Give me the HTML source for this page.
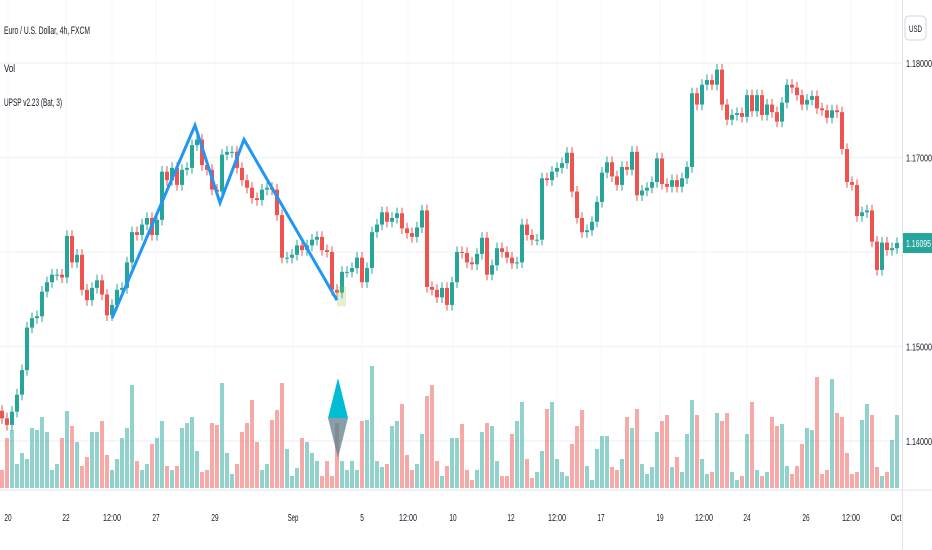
<!DOCTYPE html>
<html><head><meta charset="utf-8"><style>
html,body{margin:0;padding:0;background:#fff;}
svg{display:block;font-family:"Liberation Sans",sans-serif;}
</style></head><body>
<svg id="chart" width="932" height="550" viewBox="0 0 932 550" xmlns="http://www.w3.org/2000/svg">
<g id="grid"></g>
<g id="vol"></g>
<g id="candles"></g>
<g id="pattern"></g>
<g id="axes"></g>
<text x="4" y="34" font-size="11" fill="#131722" textLength="86" lengthAdjust="spacingAndGlyphs">Euro / U.S. Dollar, 4h, FXCM</text>
<text x="4" y="72" font-size="11" fill="#131722" textLength="11" lengthAdjust="spacingAndGlyphs">Vol</text>
<text x="4" y="106" font-size="11" fill="#131722" textLength="58" lengthAdjust="spacingAndGlyphs">UPSP v2.23 (Bat, 3)</text>
<rect x="905" y="16" width="21" height="24" rx="4" fill="#fff" stroke="#d1d4dc"/>
<text x="915.5" y="32" font-size="9" fill="#131722" text-anchor="middle" textLength="13" lengthAdjust="spacingAndGlyphs">USD</text>
</svg>
<script>
const closes=[1.1424,1.1417,1.1431,1.1449,1.1475,1.1520,1.1530,1.1532,1.1558,1.1568,1.1576,1.1576,1.1573,1.1617,1.1589,1.1597,1.1560,1.1549,1.1562,1.1570,1.1555,1.1533,1.1544,1.1560,1.1562,1.1589,1.1621,1.1618,1.1629,1.1636,1.1618,1.1634,1.1685,1.1676,1.1689,1.1671,1.1687,1.1689,1.1713,1.1719,1.1692,1.1687,1.1666,1.1664,1.1703,1.1706,1.1706,1.1689,1.1676,1.1668,1.1657,1.1655,1.1666,1.1668,1.1666,1.1639,1.1594,1.1594,1.1597,1.1607,1.1602,1.1607,1.1613,1.1616,1.1602,1.1600,1.1560,1.1557,1.1579,1.1579,1.1583,1.1594,1.1568,1.1583,1.1621,1.1629,1.1642,1.1632,1.1636,1.1641,1.1625,1.1620,1.1616,1.1626,1.1644,1.1563,1.1560,1.1552,1.1562,1.1544,1.1568,1.1600,1.1599,1.1589,1.1587,1.1598,1.1615,1.1576,1.1586,1.1604,1.1600,1.1594,1.1588,1.1589,1.1629,1.1618,1.1613,1.1613,1.1678,1.1676,1.1685,1.1689,1.1694,1.1705,1.1664,1.1636,1.1621,1.1623,1.1632,1.1653,1.1684,1.1695,1.1680,1.1671,1.1690,1.1687,1.1706,1.1660,1.1665,1.1668,1.1674,1.1699,1.1672,1.1669,1.1676,1.1669,1.1678,1.1690,1.1768,1.1756,1.1777,1.1782,1.1777,1.1793,1.1756,1.1740,1.1745,1.1747,1.1743,1.1766,1.1749,1.1766,1.1745,1.1756,1.1748,1.1738,1.1758,1.1777,1.1774,1.1766,1.1756,1.1761,1.1765,1.1752,1.1750,1.1742,1.1750,1.1748,1.1709,1.1674,1.1671,1.1638,1.1642,1.1644,1.1611,1.1581,1.1610,1.1602,1.1604,1.16095];
const volumes=[18,50,58,24,35,29,60,58,71,56,18,24,50,77,62,46,22,31,56,56,67,33,18,29,50,60,103,27,18,24,44,50,67,22,18,22,60,65,71,37,16,18,65,63,105,35,14,24,56,65,88,46,18,24,68,78,105,39,12,20,50,46,35,27,12,27,12,65,27,18,27,18,67,68,122,27,21,24,62,67,84,33,18,24,54,92,103,27,12,22,50,50,64,18,8,18,56,65,62,27,12,12,54,67,86,29,10,16,37,79,86,29,16,12,44,62,78,22,8,39,52,52,21,18,29,71,60,79,24,14,21,56,67,73,21,31,16,54,88,73,29,14,16,75,67,75,16,8,12,54,86,18,12,16,71,62,64,22,14,22,44,60,58,111,14,18,109,75,71,35,14,16,68,84,73,21,12,16,48,73];
const priceTicks=[1.18,1.17,1.16,1.15,1.14];
const priceTickLabels=["1.18000","1.17000","","1.15000","1.14000"];
const dateLabels=["20","22","12:00","27","29","Sep","5","12:00","10","12","12:00","17","19","12:00","24","26","12:00","Oct"];
const dateIndex=[1.2,12.8,22,30.8,42.6,58.2,72,81.2,90.2,101.8,111,119.8,131.6,140.4,149,160.8,169.8,178.8];
const patternIdx=[22,38.6,43.6,48.4,67];
const patternPrice=[1.1530,1.1734,1.1652,1.1719,1.1549];
const lastPrice=1.16095;

const NS="http://www.w3.org/2000/svg";
const xOf=i=>2+5*i;
const yOf=p=>63+(1.18-p)*9450;
const volBase=488;
const vOf=v=>volBase-v;
function mk(tag,attrs,parent){const e=document.createElementNS(NS,tag);for(const k in attrs)e.setAttribute(k,attrs[k]);parent.appendChild(e);return e;}
const grid=document.getElementById('grid'),vol=document.getElementById('vol'),cg=document.getElementById('candles'),pg=document.getElementById('pattern'),ax=document.getElementById('axes');

priceTicks.forEach((p,k)=>{
  const l=mk('line',{x1:0,x2:902,y1:yOf(p),y2:yOf(p),stroke:'#f0f3fa','stroke-width':1.5},grid);
  
  
  if(priceTickLabels[k]){
    const t=mk('text',{x:906,y:yOf(p)+4,'font-size':10,fill:'#131722',textLength:26,lengthAdjust:'spacingAndGlyphs'},ax);
    t.textContent=priceTickLabels[k];
    
    
  }
});
dateIndex.forEach((d,k)=>{
  const x=xOf(d);
  const l=mk('line',{x1:x,x2:x,y1:0,y2:490,stroke:'#f6f7fb','stroke-width':1},grid);
  
  
  const s=dateLabels[k];
  const t=mk('text',{x:x,y:521,'font-size':10,fill:'#131722','text-anchor':'middle',textLength:s.length*3.6,lengthAdjust:'spacingAndGlyphs'},ax);
  t.textContent=s;
  
  
});
const al=mk('line',{x1:0,x2:932,y1:490,y2:490,stroke:'#e0e3eb','stroke-width':1},ax);


const pl=mk('line',{x1:902.5,x2:902.5,y1:0,y2:550,stroke:'#e0e3eb','stroke-width':1},ax);



closes.forEach((c,i)=>{
  const o=i===0?1.1432:closes[i-1];
  const up=c>=o;
  const x=xOf(i);
  const vh=volumes[i]||0;
  const vb=mk('rect',{x:x-2,y:vOf(vh),width:4,height:vh,fill:up?'rgba(38,166,154,0.5)':'rgba(239,83,80,0.5)'},vol);
  
  
  const col=up?'#26a69a':'#ef5350';
  const hi=Math.max(o,c)+0.0006, lo=Math.min(o,c)-0.0006;
  const w=mk('line',{x1:x,x2:x,y1:yOf(hi),y2:yOf(lo),stroke:col,'stroke-width':1},cg);
  
  
  const top=yOf(Math.max(o,c)),bot=yOf(Math.min(o,c));
  const b=mk('rect',{x:x-2,y:top,width:4,height:Math.max(1,bot-top),fill:col},cg);
  
  
});

const pts=patternIdx.map((d,k)=>xOf(d)+','+yOf(patternPrice[k])).join(' ');
const poly=mk('polyline',{points:pts,fill:'none',stroke:'#2196f3','stroke-width':3,'stroke-linejoin':'miter'},pg);


const lastX=xOf(patternIdx[4]),lastY=yOf(patternPrice[4]);
const zone=mk('rect',{x:lastX,y:lastY-14,width:9,height:20,fill:'rgba(139,195,74,0.25)'},pg);


const dTop=mk('polygon',{points:`${lastX+1},378 ${lastX+11},418 ${lastX-9},418`,fill:'#00bcd4'},pg);


const dBot=mk('polygon',{points:`${lastX-9},418 ${lastX+11},418 ${lastX+1},458`,fill:'rgba(96,125,139,0.75)'},pg);



const ly=yOf(lastPrice);
const tag=mk('rect',{x:903,y:ly-10,width:29,height:20,fill:'#26a69a'},ax);


const tt=mk('text',{x:906,y:ly+4,'font-size':10,fill:'#fff',textLength:25,lengthAdjust:'spacingAndGlyphs'},ax);
tt.textContent=lastPrice.toFixed(5);


</script>
</body></html>
